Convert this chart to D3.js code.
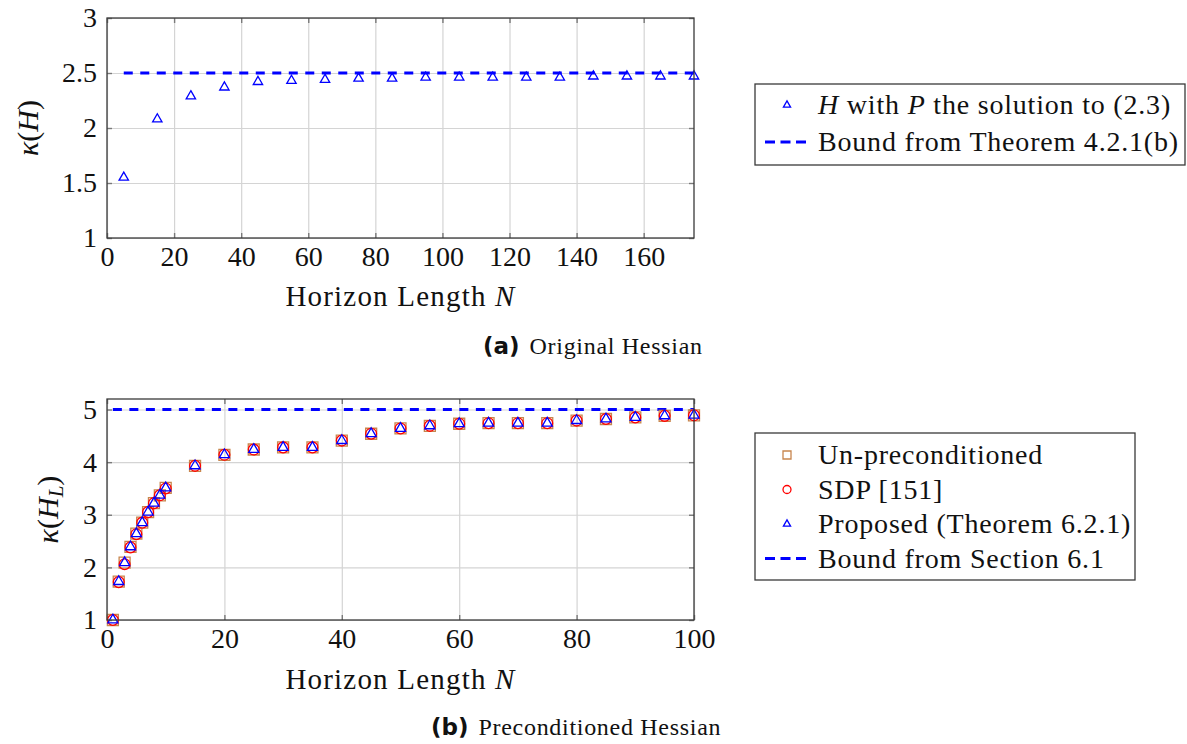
<!DOCTYPE html>
<html>
<head>
<meta charset="utf-8">
<script src="https://cdn.jsdelivr.net/npm/d3@7"></script>
<style>
  body { margin: 0; background: #fff; }
  svg { display: block; }
  text { font-family: "Liberation Serif", serif; fill: #111; }
  .grid line { stroke: #d4d4d4; stroke-width: 1.2; }
  .grid path, .lab path, .tk path { display: none; }
  .tk line { stroke: #7a7a7a; stroke-width: 1.4; }
</style>
</head>
<body>
<svg id="chart" width="1187" height="744"></svg>
<script>
// panel (a): original Hessian
var topN = [5, 15, 25, 35, 45, 55, 65, 75, 85, 95, 105, 115, 125, 135, 145, 155, 165, 175];
var topKappa = [1.55, 2.08, 2.29, 2.37, 2.42, 2.43, 2.44, 2.45, 2.45, 2.46, 2.46, 2.46, 2.46, 2.46, 2.47, 2.47, 2.47, 2.47];
var topBound = 2.5;
var topXTicks = [0, 20, 40, 60, 80, 100, 120, 140, 160];
var topYTicks = [1, 1.5, 2, 2.5, 3];

// panel (b): preconditioned Hessian
var botN = [1, 2, 3, 4, 5, 6, 7, 8, 9, 10, 15, 20, 25, 30, 35, 40, 45, 50, 55, 60, 65, 70, 75, 80, 85, 90, 95, 100];
var unprecond = [1.00, 1.73, 2.09, 2.39, 2.64, 2.85, 3.05, 3.22, 3.37, 3.51, 3.93, 4.14, 4.24, 4.28, 4.28, 4.41, 4.54, 4.64, 4.69, 4.73, 4.74, 4.74, 4.74, 4.79, 4.82, 4.85, 4.88, 4.89];
var sdp = [1.00, 1.72, 2.06, 2.38, 2.63, 2.85, 3.05, 3.22, 3.37, 3.50, 3.93, 4.14, 4.24, 4.28, 4.28, 4.41, 4.54, 4.64, 4.69, 4.73, 4.74, 4.74, 4.74, 4.79, 4.82, 4.85, 4.88, 4.89];
var proposed = [1.00, 1.73, 2.09, 2.39, 2.64, 2.85, 3.05, 3.22, 3.37, 3.51, 3.93, 4.14, 4.24, 4.28, 4.28, 4.41, 4.54, 4.64, 4.69, 4.73, 4.74, 4.74, 4.74, 4.79, 4.82, 4.85, 4.88, 4.89];
var botBound = 5;
var botXTicks = [0, 20, 40, 60, 80, 100];
var botYTicks = [1, 2, 3, 4, 5];

var svg = d3.select("#chart");
var FS = 28;

function panel(opt) {
  var x = d3.scaleLinear().domain(opt.xdom).range([opt.left, opt.right]),
      y = d3.scaleLinear().domain(opt.ydom).range([opt.bottom, opt.top]);
  var w = opt.right - opt.left, h = opt.bottom - opt.top;
  var g = svg.append("g");

  // grid
  g.append("g").attr("class", "grid")
      .attr("transform", "translate(0," + opt.bottom + ")")
      .call(d3.axisBottom(x).tickValues(opt.xt).tickSize(-h).tickFormat(""));
  g.append("g").attr("class", "grid")
      .attr("transform", "translate(" + opt.left + ",0)")
      .call(d3.axisLeft(y).tickValues(opt.yt).tickSize(-w).tickFormat(""));

  // inner tick marks on all four sides
  g.append("g").attr("class", "tk").attr("transform", "translate(0," + opt.bottom + ")")
      .call(d3.axisBottom(x).tickValues(opt.xt).tickSize(-5).tickFormat(""));
  g.append("g").attr("class", "tk").attr("transform", "translate(0," + opt.top + ")")
      .call(d3.axisTop(x).tickValues(opt.xt).tickSize(-5).tickFormat(""));
  g.append("g").attr("class", "tk").attr("transform", "translate(" + opt.left + ",0)")
      .call(d3.axisLeft(y).tickValues(opt.yt).tickSize(-5).tickFormat(""));
  g.append("g").attr("class", "tk").attr("transform", "translate(" + opt.right + ",0)")
      .call(d3.axisRight(y).tickValues(opt.yt).tickSize(-5).tickFormat(""));

  // tick labels
  var xl = g.append("g").attr("class", "lab")
      .attr("transform", "translate(0," + opt.bottom + ")")
      .call(d3.axisBottom(x).tickValues(opt.xt).tickSize(0).tickPadding(8).tickFormat(d3.format("d")));
  xl.selectAll("text").style("font-size", FS + "px").attr("fill", "#111");
  var yl = g.append("g").attr("class", "lab")
      .attr("transform", "translate(" + opt.left + ",0)")
      .call(d3.axisLeft(y).tickValues(opt.yt).tickSize(0).tickPadding(10).tickFormat(d3.format("")));
  yl.selectAll("text").style("font-size", FS + "px").attr("fill", "#111");

  // bound line
  var line = d3.line().x(function(d) { return x(d); }).y(function() { return y(opt.bound); });
  g.append("path")
      .datum(d3.extent(opt.boundX))
      .attr("d", line)
      .attr("fill", "none")
      .attr("stroke", "#0000ff")
      .attr("stroke-width", 3.2)
      .attr("stroke-dasharray", "9,7.5");

  // markers
  opt.series.forEach(function(s) {
    g.selectAll(null)
      .data(s.values)
      .enter().append("path")
        .attr("d", d3.symbol().type(s.type).size(s.size)())
        .attr("transform", function(d, i) { return "translate(" + x(opt.xs[i]) + "," + y(d) + ")"; })
        .attr("fill", "none")
        .attr("stroke", s.color)
        .attr("stroke-width", 1.3);
  });

  // frame
  g.append("rect")
      .attr("x", opt.left).attr("y", opt.top).attr("width", w).attr("height", h)
      .attr("fill", "none").attr("stroke", "#3a3a3a").attr("stroke-width", 1.3);

  // x label
  var xt = g.append("text")
      .attr("x", (opt.left + opt.right) / 2).attr("y", opt.xlabY)
      .attr("text-anchor", "middle").style("font-size", "29px").style("letter-spacing", "1.2px");
  xt.append("tspan").text("Horizon Length ");
  xt.append("tspan").style("font-style", "italic").text("N");

  // y label
  var yt = g.append("text")
      .attr("transform", "translate(" + opt.ylabX + "," + ((opt.top + opt.bottom) / 2) + ") rotate(-90)")
      .attr("text-anchor", "middle").style("font-size", "30px");
  yt.append("tspan").style("font-style", "italic").text("\u03ba");
  yt.append("tspan").text("(");
  yt.append("tspan").style("font-style", "italic").text("H");
  if (opt.sub) {
    yt.append("tspan").style("font-style", "italic").style("font-size", "21px")
      .attr("dy", 5).text(opt.sub);
    yt.append("tspan").attr("dy", -5).text(")");
  } else {
    yt.append("tspan").text(")");
  }

  // caption
  var cap = g.append("text").attr("x", opt.capX).attr("y", opt.capY);
  cap.append("tspan").style("font-family", "'DejaVu Sans', sans-serif")
    .style("font-weight", "bold").style("font-size", "23px").text(opt.capTag);
  cap.append("tspan").attr("dx", 10).style("font-size", "24px")
    .style("letter-spacing", "0.7px").text(opt.capText);
}

function legend(box, rows) {
  var g = svg.append("g");
  g.append("rect")
    .attr("x", box.x).attr("y", box.y).attr("width", box.w).attr("height", box.h)
    .attr("fill", "#fff").attr("stroke", "#3a3a3a").attr("stroke-width", 1.3);
  rows.forEach(function(r, i) {
    var cy = box.y + box.first + i * box.step;
    if (r.type) {
      g.append("path")
        .attr("d", d3.symbol().type(r.type).size(r.size)())
        .attr("transform", "translate(787," + cy + ")")
        .attr("fill", "none").attr("stroke", r.color).attr("stroke-width", 1.3);
    } else {
      g.append("line")
        .attr("x1", 765).attr("x2", 806).attr("y1", cy).attr("y2", cy)
        .attr("stroke", "#0000ff").attr("stroke-width", 3.2)
        .attr("stroke-dasharray", "10,5.5");
    }
    var t = g.append("text").attr("x", 818).attr("y", cy + 9)
      .style("font-size", FS + "px").style("letter-spacing", "0.8px");
    r.parts.forEach(function(p) {
      t.append("tspan").style("font-style", p[1] ? "italic" : "normal").text(p[0]);
    });
  });
}

panel({
  xdom: [0, 175], ydom: [1, 3],
  left: 107, right: 694, top: 18, bottom: 238,
  xt: topXTicks, yt: topYTicks,
  xs: topN, bound: topBound, boundX: topN,
  series: [{ values: topKappa, type: d3.symbolTriangle, size: 38, color: "#0000ff" }],
  xlabY: 306, ylabX: 38, sub: null,
  capX: 483, capY: 354, capTag: "(a)", capText: "Original Hessian"
});

panel({
  xdom: [0, 100], ydom: [1, 5.2],
  left: 107, right: 694, top: 399, bottom: 620,
  xt: botXTicks, yt: botYTicks,
  xs: botN, bound: botBound, boundX: botN,
  series: [
    { values: unprecond, type: d3.symbolSquare, size: 121, color: "#c8864e" },
    { values: sdp, type: d3.symbolCircle, size: 92, color: "#ff0000" },
    { values: proposed, type: d3.symbolTriangle, size: 44, color: "#0000ff" }
  ],
  xlabY: 689, ylabX: 58, sub: "L",
  capX: 431, capY: 735, capTag: "(b)", capText: "Preconditioned Hessian"
});

legend({ x: 755, y: 84, w: 430, h: 81, first: 21, step: 37 }, [
  { type: d3.symbolTriangle, size: 22, color: "#0000ff",
    parts: [["H", true], [" with ", false], ["P", true], [" the solution to (2.3)", false]] },
  { type: null, parts: [["Bound from Theorem 4.2.1(b)", false]] }
]);

legend({ x: 755, y: 433, w: 380, h: 147, first: 22, step: 34.5 }, [
  { type: d3.symbolSquare, size: 64, color: "#c8864e", parts: [["Un-preconditioned", false]] },
  { type: d3.symbolCircle, size: 50, color: "#ff0000", parts: [["SDP [151]", false]] },
  { type: d3.symbolTriangle, size: 22, color: "#0000ff", parts: [["Proposed (Theorem 6.2.1)", false]] },
  { type: null, parts: [["Bound from Section 6.1", false]] }
]);
</script>
</body>
</html>
